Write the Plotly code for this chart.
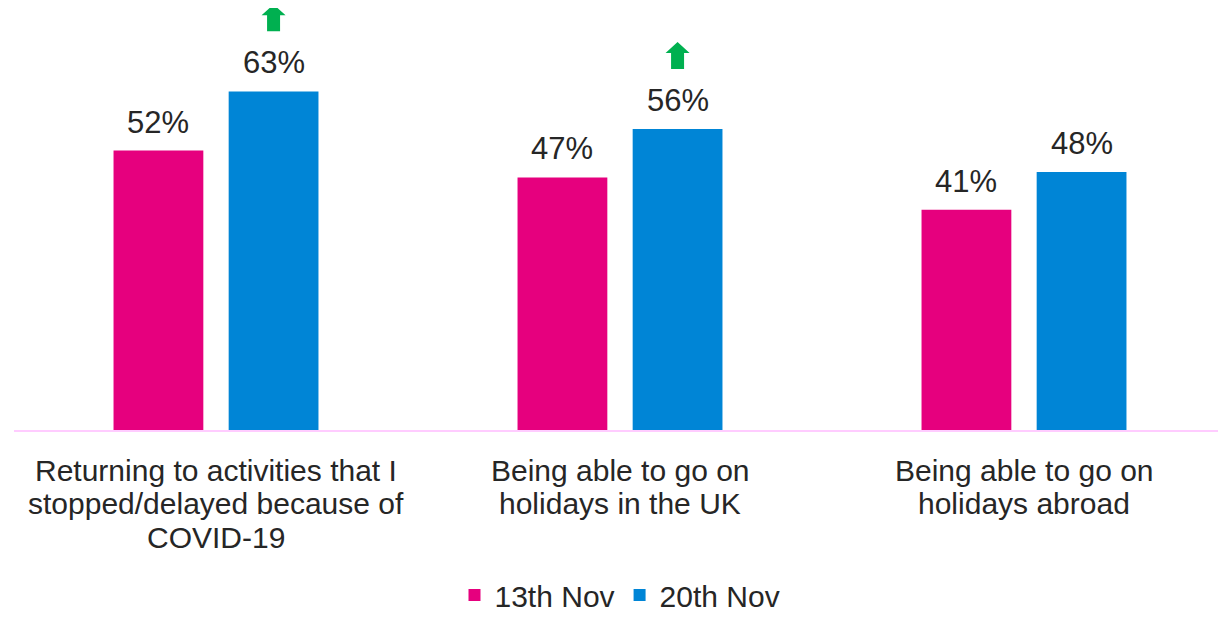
import plotly.graph_objects as go

categories = [
    "Returning to activities that I<br>stopped/delayed because of<br>COVID-19",
    "Being able to go on<br>holidays in the UK",
    "Being able to go on<br>holidays abroad",
]
series_names = ["13th Nov", "20th Nov"]
nov13 = [52, 47, 41]
nov20 = [63, 56, 48]
significant_up = [True, True, False]

PINK = "#E6007E"
BLUE = "#0085D6"
GREEN = "#00B050"
TEXT = "#262626"
FONT = "Arial, Liberation Sans, sans-serif"

# page body adds an 8px margin around the figure; keep the page within the window
W, H = 1218, 606
ML, MR, MT, MB = 6, 0, 0, 184
PX_PER_PCT = 5.375
plot_w = W - ML - MR
plot_h = H - MT - MB
YMAX = plot_h / PX_PER_PCT
BARGAP = 0.43
GROUPGAP = 0.22

x_idx = list(range(len(categories)))
px_x = plot_w / len(categories)   # pixels per category unit
px_y = plot_h / YMAX              # pixels per percentage point
offset = (1 - BARGAP) / 4         # centre offset of each bar in a group

fig = go.Figure()
for k, (name, vals, col) in enumerate([(series_names[0], nov13, PINK), (series_names[1], nov20, BLUE)]):
    fig.add_trace(go.Bar(x=x_idx, y=vals, name=name, marker_color=col, marker_line_width=0))
    sign = -1 if k == 0 else 1
    for i, v in enumerate(vals):
        fig.add_annotation(x=i + sign * offset, y=v, xref="x", yref="y",
                           text=f"{v}%", showarrow=False, yanchor="bottom",
                           yshift=9, font=dict(size=31, color=TEXT, family=FONT))

# green up-arrows above the 20th Nov bars (significant increase)
for i, (v, up) in enumerate(zip(nov20, significant_up)):
    if not up:
        continue
    cx = i + offset
    base = v + 60 / px_y
    hw = 12 / px_x
    sw = 6.5 / px_x
    sh = 16 / px_y
    hh = 11 / px_y
    path = (f"M {cx - sw} {base} L {cx + sw} {base} L {cx + sw} {base + sh} "
            f"L {cx + hw} {base + sh} L {cx} {base + sh + hh} L {cx - hw} {base + sh} "
            f"L {cx - sw} {base + sh} Z")
    fig.add_shape(type="path", path=path, xref="x", yref="y",
                  fillcolor=GREEN, line=dict(width=0))

# category labels (tight line spacing), one annotation per line
line_gap = 33.5
for i, cat in enumerate(categories):
    for j, line in enumerate(cat.split("<br>")):
        fig.add_annotation(x=i, y=0, xref="x", yref="paper", text=line,
                           showarrow=False, yanchor="middle",
                           yshift=-(40 + j * line_gap),
                           font=dict(size=30, color=TEXT, family=FONT))

fig.update_layout(
    width=W, height=H,
    margin=dict(l=ML, r=MR, t=MT, b=MB, autoexpand=False),
    paper_bgcolor="white", plot_bgcolor="white",
    barmode="group", bargap=BARGAP, bargroupgap=GROUPGAP,
    font=dict(family=FONT, color=TEXT),
    showlegend=True,
    legend=dict(orientation="h", x=0.5, xanchor="center", y=-165 / plot_h,
                yanchor="middle", font=dict(size=30, color=TEXT, family=FONT),
                itemwidth=30, traceorder="normal"),
    xaxis=dict(
        tickmode="array", tickvals=x_idx, ticktext=["" for _ in categories],
        range=[-0.5, len(categories) - 0.5],
        showline=True, linecolor="#FFCCFF", linewidth=2,
        showgrid=False, zeroline=False, ticks="",
    ),
    yaxis=dict(range=[0, YMAX], visible=False, showgrid=False, zeroline=False),
)

fig.write_html("out.html")
